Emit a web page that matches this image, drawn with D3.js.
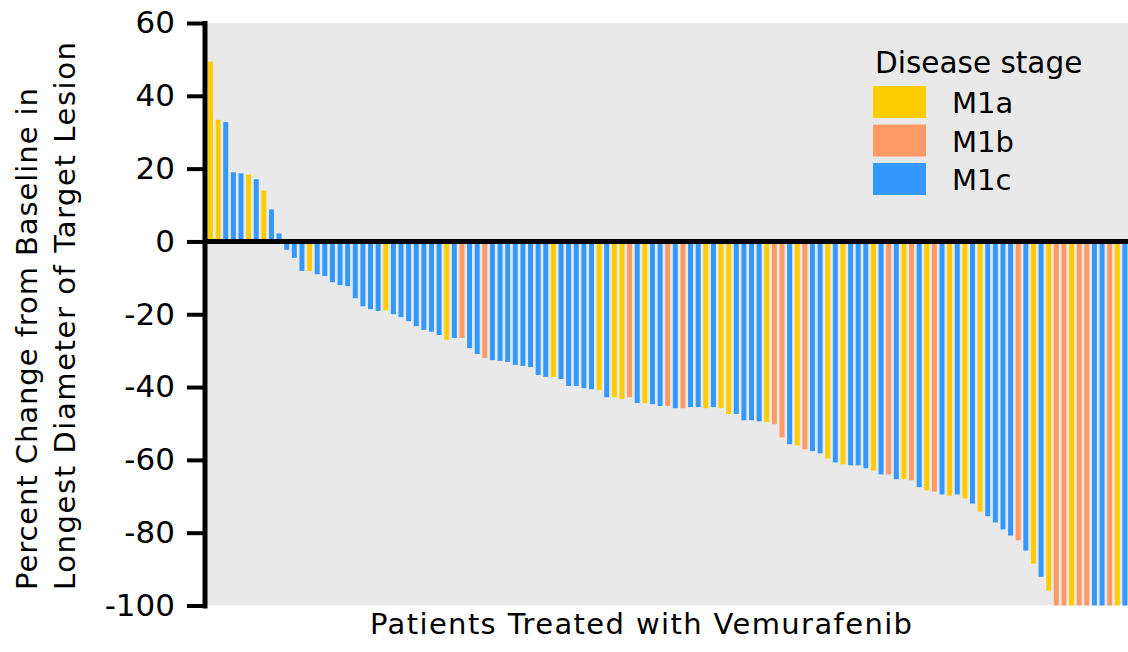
<!DOCTYPE html>
<html>
<head>
<meta charset="utf-8">
<script src="https://cdn.jsdelivr.net/npm/d3@7"></script>
<style>
  body { margin: 0; background: #fff; }
  svg { display: block; font-family: "Comic Sans MS", "DejaVu Sans", sans-serif; }
</style>
</head>
<body>
<svg></svg>
<script>
const W = 1128,
  H = 652,
  STAGES = ["M1a", "M1b", "M1c"],
  STAGE_COLORS = ["#ffcc00", "#ff9966", "#3399ff"],
  Y_TICKS = [60, 40, 20, 0, -20, -40, -60, -80, -100],
  X_TITLE = "Patients Treated with Vemurafenib",
  Y_TITLE = ["Percent Change from Baseline in", "Longest Diameter of Target Lesion"],
  LEGEND_TITLE = "Disease stage";

// percent change per patient, sorted as in the waterfall
const change = [
  49.4, 33.4, 32.8, 19.0, 18.7, 18.4, 17.1, 14.0, 8.8, 2.2,
  -2.3, -4.5, -8.1, -8.1, -9.0, -9.5, -11.2, -12.0, -12.3, -15.6,
  -17.8, -18.6, -19.1, -18.9, -20.0, -20.8, -21.9, -23.3, -24.3, -24.8,
  -25.7, -27.0, -26.5, -26.5, -29.3, -30.9, -32.0, -32.6, -32.8, -33.1,
  -33.9, -34.2, -34.5, -36.7, -37.2, -37.2, -37.8, -39.7, -39.7, -40.3,
  -40.6, -40.8, -42.8, -42.8, -43.3, -42.8, -44.4, -44.4, -44.7, -45.2,
  -45.2, -45.8, -45.8, -45.5, -45.5, -45.8, -45.5, -45.8, -47.4, -47.4,
  -49.1, -49.1, -49.4, -49.6, -50.2, -53.8, -55.7, -56.0, -57.1, -57.6,
  -58.2, -59.6, -60.7, -61.2, -61.5, -61.5, -62.3, -62.9, -64.0, -64.0,
  -65.3, -65.3, -65.6, -67.5, -68.4, -68.7, -69.5, -69.8, -69.5, -70.6,
  -72.0, -74.2, -75.5, -77.2, -79.1, -80.8, -82.1, -84.9, -88.5, -92.1,
  -95.9, -100, -100, -100, -100, -100, -100, -100, -100, -100,
  -100
];

// disease stage per patient: a = M1a, b = M1b, c = M1c
const stage = [
  "a", "a", "c", "c", "c", "a", "c", "a", "c", "c",
  "c", "c", "c", "a", "c", "c", "c", "c", "c", "c",
  "c", "c", "c", "a", "c", "c", "c", "c", "c", "c",
  "c", "a", "c", "b", "c", "c", "b", "c", "c", "c",
  "c", "c", "c", "c", "c", "a", "c", "c", "c", "c",
  "c", "a", "c", "a", "a", "b", "c", "a", "c", "c",
  "b", "c", "b", "c", "c", "a", "c", "a", "a", "c",
  "c", "c", "c", "a", "b", "b", "c", "a", "b", "c",
  "c", "a", "c", "a", "c", "c", "c", "a", "c", "b",
  "c", "a", "b", "c", "a", "b", "c", "a", "c", "a",
  "c", "a", "c", "c", "c", "c", "b", "c", "a", "c",
  "a", "b", "b", "a", "b", "b", "c", "c", "b", "a",
  "c"
];

const data = change.map((v, i) => ({ i: i, v: v, s: "M1" + stage[i] }));

const plot = { left: 207, right: 1128, top: 23, bottom: 605.5 };

const svg = d3.select("svg").attr("width", W).attr("height", H);

const x = d3
  .scaleBand()
  .domain(d3.range(change.length))
  .range([208, 1127.4])
  .paddingInner(0.345)
  .paddingOuter(0);

const y = d3.scaleLinear().domain([-100, 60]).range([plot.bottom, plot.top]);

const color = d3.scaleOrdinal().domain(STAGES).range(STAGE_COLORS);

// plot background
svg
  .append("rect")
  .attr("x", plot.left)
  .attr("y", y(60))
  .attr("width", plot.right - plot.left)
  .attr("height", y(-100) - y(60))
  .attr("fill", "#e9e9e9");

// bars
svg
  .append("g")
  .selectAll("rect")
  .data(data)
  .enter()
  .append("rect")
  .attr("x", d => x(d.i))
  .attr("y", d => Math.min(y(d.v), y(0)))
  .attr("width", x.bandwidth())
  .attr("height", d => Math.abs(y(d.v) - y(0)))
  .attr("fill", d => color(d.s));

// zero line
svg
  .append("line")
  .attr("x1", plot.left)
  .attr("x2", plot.right)
  .attr("y1", y(0))
  .attr("y2", y(0))
  .attr("stroke", "#000")
  .attr("stroke-width", 5);

// y axis (plain hyphen for negatives, like the original)
const yAxis = d3
  .axisLeft(y)
  .tickValues(Y_TICKS)
  .tickSize(17.5)
  .tickSizeOuter(0)
  .tickPadding(12)
  .tickFormat(d => String(d));

const gy = svg
  .append("g")
  .attr("transform", "translate(204.5,0)")
  .call(yAxis);

gy.attr("font-family", null);
gy.select(".domain")
  .attr("stroke", "#000")
  .attr("stroke-width", 5)
  .attr("stroke-linecap", "square");
gy.selectAll(".tick line").attr("stroke", "#000").attr("stroke-width", 4);
gy.selectAll(".tick text")
  .attr("font-size", 31)
  .attr("fill", "#000");

// axis titles
svg
  .append("text")
  .attr("x", 641)
  .attr("y", 634)
  .attr("text-anchor", "middle")
  .attr("font-size", 29)
  .attr("textLength", 542)
  .attr("lengthAdjust", "spacing")
  .text(X_TITLE);

const titleLen = [502, 548];
Y_TITLE.forEach((t, k) => {
  svg
    .append("text")
    .attr("transform", "translate(" + (37 + k * 38) + ",590) rotate(-90)")
    .attr("text-anchor", "start")
    .attr("font-size", 29)
    .attr("textLength", titleLen[k])
    .attr("lengthAdjust", "spacing")
    .text(t);
});

// legend
const legend = svg.append("g");
legend
  .append("text")
  .attr("x", 875)
  .attr("y", 73)
  .attr("font-size", 29.5)
  .text(LEGEND_TITLE);

STAGES.forEach((s, k) => {
  legend
    .append("rect")
    .attr("x", 873)
    .attr("y", 86 + k * 38.5)
    .attr("width", 53)
    .attr("height", 32)
    .attr("fill", color(s));
  legend
    .append("text")
    .attr("x", 952)
    .attr("y", 113 + k * 38.5)
    .attr("font-size", 29)
    .text(s);
});
</script>
</body>
</html>
